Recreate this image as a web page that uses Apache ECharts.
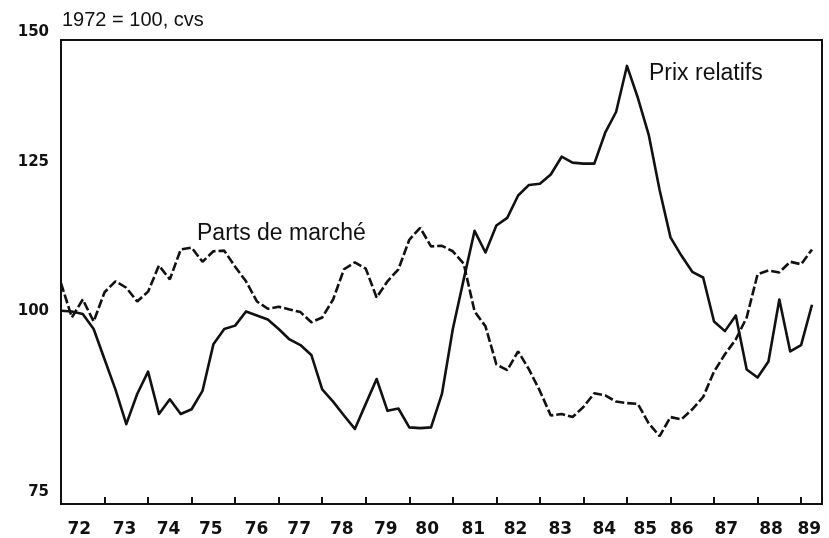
<!DOCTYPE html>
<html>
<head>
<meta charset="utf-8">
<script src="https://cdn.jsdelivr.net/npm/echarts@6/dist/echarts.min.js"></script>
<style>
html, body { margin: 0; padding: 0; background: #fff; }
#chart { width: 829px; height: 538px; }
</style>
</head>
<body>
<div id="chart"></div>
<script type="text/javascript">
// trimestriel, 1972 T1 -> 1989 T2
var startYear = 1972;
var prixRelatifs = [
	100.1, 100.0, 99.6, 97.4, 93.1, 89.0, 84.5, 88.4, 91.4, 85.8,
	87.7, 85.8, 86.4, 88.8, 95.2, 97.4, 97.9, 100.0, 99.4, 98.8,
	97.4, 95.9, 95.1, 93.7, 89.0, 87.4, 85.6, 83.9, 87.1, 90.4,
	86.2, 86.5, 84.1, 84.0, 84.1, 88.4, 97.4, 104.9, 112.8, 109.2,
	113.7, 115.0, 118.9, 120.8, 121.0, 122.7, 126.0, 124.9, 124.7, 124.7,
	130.6, 134.7, 144.3, 137.6, 130.2, 119.9, 111.7, 108.7, 106.1, 105.2,
	98.5, 97.1, 99.4, 91.7, 90.6, 92.8, 101.8, 94.2, 95.1, 101.0
];
var partsMarche = [
	104.3, 99.1, 101.8, 98.5, 102.9, 104.6, 103.6, 101.5, 103.0, 107.1,
	104.9, 109.7, 110.0, 107.7, 109.4, 109.5, 106.9, 104.6, 101.5, 100.4,
	100.7, 100.3, 99.9, 98.4, 99.1, 101.8, 106.5, 107.6, 106.6, 102.1,
	104.6, 106.5, 111.3, 113.3, 110.2, 110.3, 109.4, 107.4, 100.0, 97.8,
	92.4, 91.6, 94.2, 91.7, 88.8, 85.6, 85.8, 85.4, 86.7, 88.5,
	88.2, 87.4, 87.2, 87.1, 84.6, 83.0, 85.4, 85.1, 86.4, 88.0,
	91.4, 93.8, 95.9, 99.1, 105.7, 106.3, 106.0, 107.7, 107.3, 109.7
];
var yearLabels = ['72','73','74','75','76','77','78','79','80','81','82','83','84','85','86','87','88','89'];
var yTicks = [75, 100, 125, 150];

var quarters = [];
for (var i = 0; i < prixRelatifs.length; i++) quarters.push(startYear + i / 4);

function pairs(vals) {
	return vals.map(function (v, i) { return [quarters[i], v]; });
}

// labels sit in the middle of each year, the last ones are squeezed to the left
var labelAt = yearLabels.map(function (l, i) {
	var shift = [0.42,0.46,0.47,0.44,0.49,0.47,0.45,0.46,0.41,0.47,0.44,0.47,0.48,0.42,0.26,0.28,0.31,0.19][i];
	return startYear + i + shift;
});
var tickAt = [];
for (var t = 1973; t <= 1989; t++) tickAt.push(t);

var myChart = echarts.init(document.getElementById('chart'));
var ink = '#111';
option = {
	backgroundColor: '#fff',
	animation: false,
	grid: {
		left: 61, right: 7, top: 40, bottom: 32,
		show: true, borderColor: ink, borderWidth: 2
	},
	xAxis: {
		type: 'value',
		min: 1972, max: 1989.48,
		splitLine: { show: false },
		axisLine: { lineStyle: { color: ink, width: 2 } },
		axisTick: {
			customValues: tickAt, inside: true, length: 7,
			lineStyle: { color: ink, width: 2 }
		},
		axisLabel: {
			customValues: labelAt,
			margin: 17,
			color: ink,
			fontFamily: 'DejaVu Sans',
			fontWeight: 'bold',
			fontSize: 17,
			formatter: function (v) {
				return yearLabels[Math.floor(v + 1e-6) - startYear];
			}
		}
	},
	yAxis: {
		type: 'log',
		min: 75, max: 150,
		splitLine: { show: false },
		axisLine: { lineStyle: { color: ink, width: 2 } },
		axisTick: { show: false },
		axisLabel: {
			customValues: yTicks,
			margin: 12,
			color: ink,
			fontFamily: 'DejaVu Sans',
			fontWeight: 'bold',
			fontSize: 15,
			formatter: function (v) {
				var n = Math.round(v);
				if (n === 150) return '{top|150}';
				if (n === 75) return '{bot|75}';
				return '{n|' + n + '}';
			},
			rich: {
				top: { padding: [0, 0, 16, 0] },
				bot: { padding: [0, 0, 24, 0] },
				n: {}
			}
		}
	},
	series: [
		{
			name: 'Prix relatifs',
			type: 'line',
			data: pairs(prixRelatifs),
			symbol: 'none',
			lineStyle: { color: ink, width: 2.6, join: 'round' }
		},
		{
			name: 'Parts de marché',
			type: 'line',
			data: pairs(partsMarche),
			symbol: 'none',
			lineStyle: { color: ink, width: 2.6, type: [9, 3] }
		}
	],
	graphic: [
		{ type: 'text', left: 62, top: 10, style: { text: '1972 = 100, cvs', fill: ink, font: '20px "Liberation Sans"' } },
		{ type: 'text', left: 197, top: 222, style: { text: 'Parts de marché', fill: ink, font: '23px "Liberation Sans"' } },
		{ type: 'text', left: 649, top: 62, style: { text: 'Prix relatifs', fill: ink, font: '23px "Liberation Sans"' } }
	]
};
myChart.setOption(option);
</script>
</body>
</html>
